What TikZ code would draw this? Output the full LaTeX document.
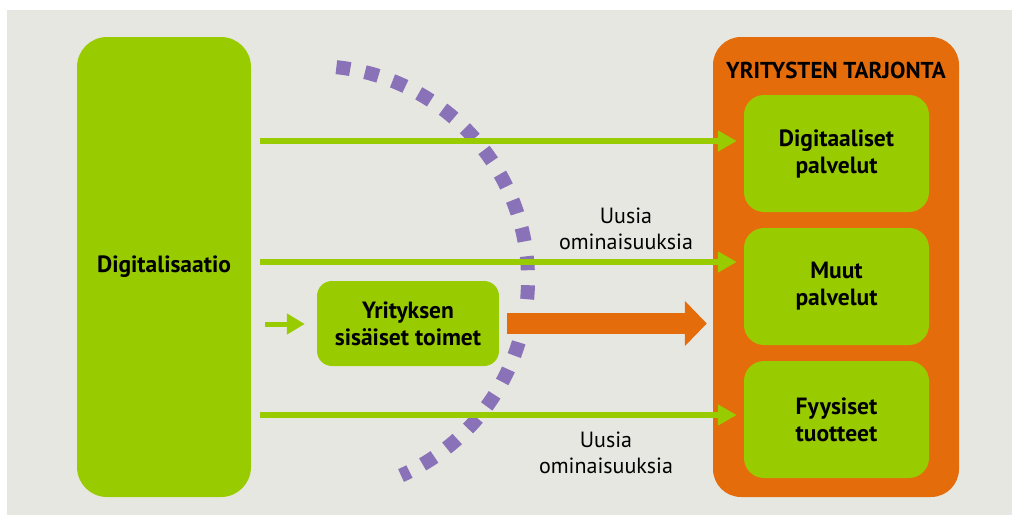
\documentclass[tikz,border=0pt]{standalone}
\usepackage{fontspec}
\setmainfont{PT Sans}
\usetikzlibrary{arrows.meta, positioning}
\definecolor{bgGray}{HTML}{E7E7E1}
\definecolor{dGreen}{HTML}{99CC00}
\definecolor{dOrange}{HTML}{E46C0B}
\definecolor{dPurple}{HTML}{8A72B8}

\begin{document}
\begin{tikzpicture}[x=1pt, y=-1pt,
      gbox/.style={fill=dGreen, rounded corners=20pt, align=center, inner sep=0pt,
                   font=\bfseries\fontsize{23.5}{27}\selectfont},
      garrow/.style={draw=dGreen, line width=6pt, -{Triangle[length=19pt, width=20pt]}},
      oarrow/.style={draw=dOrange, line width=21pt, -{Triangle[length=22pt, width=44pt]}},
      dotarc/.style={draw=dPurple, line width=14pt, dash pattern=on 14pt off 15pt},
      lbl/.style={align=center, font=\fontsize{22}{26}\selectfont}]
    \useasboundingbox (0,0) rectangle (1012,515);
    \fill[white] (0,0) rectangle (1012,515);
    \fill[bgGray] (7,10) rectangle (1012,515);
    \node[gbox, minimum width=174pt, minimum height=460pt, rounded corners=30pt] (dig) at (164,267) {Digitalisaatio};
    \node[fill=dOrange, rounded corners=28pt, minimum width=246pt, minimum height=460pt] (tarj) at (836,267) {};
    \node[font=\bfseries\fontsize{23}{27}\selectfont] (tarjt) at (836,70) {YRITYSTEN TARJONTA};
    \node[gbox, minimum width=185pt, minimum height=117pt] (b1) at (836.5,153.5) {Digitaaliset\\palvelut};
    \node[gbox, minimum width=185pt, minimum height=117pt] (b2) at (836.5,286.5) {Muut\\palvelut};
    \node[gbox, minimum width=185pt, minimum height=117pt] (b3) at (836.5,419.5) {Fyysiset\\tuotteet};
    \node[gbox, minimum width=182pt, minimum height=85pt, rounded corners=15pt] (sis) at (408,323.5) {Yrityksen\\sisäiset toimet};
    \coordinate (ctr) at (314,280);
    \draw[dotarc] (ctr) ++(-84:214) arc[start angle=-84, end angle=66, radius=214];
    \draw[garrow, shorten <=9pt, shorten >=7pt] (dig.east |- 0,141) -- (b1.west |- 0,141);
    \draw[garrow, shorten <=9pt, shorten >=7pt] (dig.east |- 0,262) -- (b2.west |- 0,262);
    \draw[garrow, shorten <=9pt, shorten >=7pt] (dig.east |- 0,415) -- (b3.west |- 0,415);
    \coordinate (sisin) at (265,324);
    \draw[dGreen, line width=5pt, -{Triangle[length=18pt, width=20pt]}, shorten >=12pt] (sisin) -- (sis.west |- sisin);
    \draw[oarrow, shorten <=8pt, shorten >=6pt] (sis.east) -- (sis.east -| tarj.west);
    \node[lbl] (u1) at (626,229) {Uusia\\ominaisuuksia};
    \node[lbl] (u2) at (606,453) {Uusia\\ominaisuuksia};
  \end{tikzpicture}
\end{document}
